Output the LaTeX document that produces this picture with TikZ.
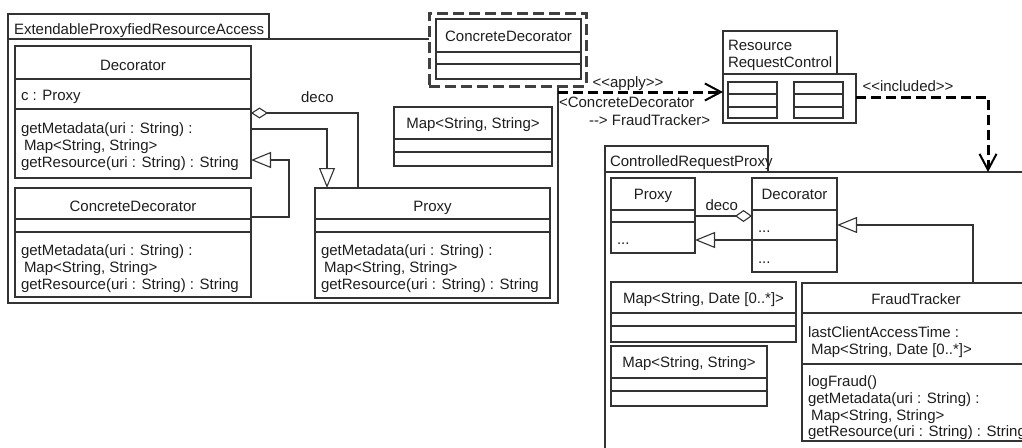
\documentclass[tikz,border=0pt]{standalone}
\usepackage{fontspec}
\setmainfont{Liberation Sans}
\usetikzlibrary{arrows.meta}
\definecolor{ln}{HTML}{333333}
\definecolor{tx}{HTML}{1E1E1E}
\definecolor{hlc}{HTML}{404040}
\newcommand\cmpt[2]{\draw[sep] ([yshift=-#2pt]#1.north west) -- ([yshift=-#2pt]#1.north east);}
\begin{document}
\begin{tikzpicture}[x=1pt,y=-1pt,
  box/.style={draw=ln, line width=1.1pt, fill=white, anchor=north west, inner sep=0pt, outer sep=0pt},
  sep/.style={draw=ln, line width=1.1pt},
  txt/.style={inner sep=0pt, outer sep=0pt, text=tx, font=\fontsize{15pt}{18pt}\selectfont},
  gen/.style={draw=ln, line width=1.1pt, -{Triangle[open, fill=white, length=20pt, width=16pt]}},
  aggs/.style={draw=ln, line width=1.1pt, {Diamond[open, fill=white, length=17pt, width=11pt]}-},
  agge/.style={draw=ln, line width=1.1pt, -{Diamond[open, fill=white, length=17pt, width=12pt]}},
  dep/.style={draw=black, line width=3pt, dash pattern=on 10pt off 5pt, -{Straight Barb[length=16pt, width=17pt, line width=2pt]}},
  hlbox/.style={draw=hlc, line width=3pt, dash pattern=on 11pt off 5pt, fill=white, anchor=north west, inner sep=0pt, outer sep=0pt}
]
\useasboundingbox (0,0) rectangle (1022,447);
\clip (0,0) rectangle (1022,447);

% ---------- package ExtendableProxyfiedResourceAccess
\node[box, minimum width=550pt, minimum height=264pt] (epra) at (8,39) {};
\node[box, minimum width=261pt, minimum height=25pt] (epratab) at (8,14) {};
\node[txt, anchor=base west] (epratitle) at (14,34) {ExtendableProxyfiedResourceAccess};

% Decorator
\node[box, minimum width=236pt, minimum height=132pt] (dec) at (15,46) {};
\cmpt{dec}{33}\cmpt{dec}{63}
\node[txt, anchor=base] (dech) at (133,70) {Decorator};
\node[txt, anchor=base west] (deca) at (21,100) {c : Proxy};
\node[txt, anchor=base west] (decm1) at (21,133) {getMetadata(uri : String) :};
\node[txt, anchor=base west] (decm2) at (21,150) {\hspace*{3pt}Map<String, String>};
\node[txt, anchor=base west] (decm3) at (21,167) {getResource(uri : String) : String};

% ConcreteDecorator
\node[box, minimum width=236pt, minimum height=109pt] (lcd) at (15,188) {};
\cmpt{lcd}{31}\cmpt{lcd}{44}
\node[txt, anchor=base] (lcdh) at (133,211) {ConcreteDecorator};
\node[txt, anchor=base west] (lcdm1) at (21,255) {getMetadata(uri : String) :};
\node[txt, anchor=base west] (lcdm2) at (21,272) {\hspace*{3pt}Map<String, String>};
\node[txt, anchor=base west] (lcdm3) at (21,289) {getResource(uri : String) : String};

% Proxy
\node[box, minimum width=235pt, minimum height=110pt] (lprox) at (315,188) {};
\cmpt{lprox}{31}\cmpt{lprox}{44}
\node[txt, anchor=base] (lproxh) at (432.5,211) {Proxy};
\node[txt, anchor=base west] (lproxm1) at (321,255) {getMetadata(uri : String) :};
\node[txt, anchor=base west] (lproxm2) at (321,272) {\hspace*{3pt}Map<String, String>};
\node[txt, anchor=base west] (lproxm3) at (321,289) {getResource(uri : String) : String};

% Map<String, String>
\node[box, minimum width=158pt, minimum height=59pt] (lmap) at (394,107) {};
\cmpt{lmap}{32}\cmpt{lmap}{45}
\node[txt, anchor=base] (lmaph) at (473,128) {Map<String, String>};

% connectors in package
\draw[aggs] ([yshift=-67pt]dec.north east) -| ([xshift=43pt]lprox.north west)
  node[txt, pos=0.31, above=10pt] (decolbl) {deco};
\draw[gen] ([yshift=-83pt]dec.north east) -| ([xshift=12pt]lprox.north west);
\draw[gen] ([yshift=-29pt]lcd.north east) -- ++(38,0) |- ([yshift=-114pt]dec.north east);

% ---------- highlighted ConcreteDecorator
\node[hlbox, minimum width=157pt, minimum height=73pt] (hl) at (429,13) {};
\node[box, minimum width=145pt, minimum height=60pt] (hcd) at (436,19) {};
\cmpt{hcd}{33}\cmpt{hcd}{45}
\node[txt, anchor=base] (hcdh) at (508.5,41) {ConcreteDecorator};

% ---------- ResourceRequestControl
\node[box, minimum width=114pt, minimum height=43pt] (rrctab) at (723,31) {};
\node[box, minimum width=133pt, minimum height=49pt] (rrc) at (723,74) {};
\node[txt, anchor=base west] (rrct1) at (728,50) {Resource};
\node[txt, anchor=base west] (rrct2) at (728,67) {RequestControl};
\node[box, minimum width=49pt, minimum height=36pt] (rrcb1) at (728,82) {};
\cmpt{rrcb1}{12}\cmpt{rrcb1}{25}
\node[box, minimum width=49pt, minimum height=36pt] (rrcb2) at (794,82) {};
\cmpt{rrcb2}{12}\cmpt{rrcb2}{25}

% apply
\draw[dep] ([yshift=-53pt]epra.north east) -- ([yshift=-18pt]rrc.north west);
\node[txt, anchor=base] (applylbl) at (628,87) {<{}<apply>{}>};
\node[txt, anchor=base west] (bind1) at (559,107) {<ConcreteDecorator};
\node[txt, anchor=base west] (bind2) at (589,125) {-{}-> FraudTracker>};

% ---------- ControlledRequestProxy
\node[box, minimum width=440pt, minimum height=300pt] (crp) at (605,172) {};
\node[box, minimum width=163pt, minimum height=26pt] (crptab) at (605,146) {};
\node[txt, anchor=base west] (crptitle) at (610,166) {ControlledRequestProxy};

% included
\draw[dep] ([yshift=-23pt]rrc.north east) -| ([xshift=383pt]crp.north west);
\node[txt, anchor=base] (inclbl) at (908,91) {<{}<included>{}>};

% Proxy (CRP)
\node[box, minimum width=84pt, minimum height=75pt] (cprox) at (611,178) {};
\cmpt{cprox}{32}\cmpt{cprox}{44}
\node[txt, anchor=base] (cproxh) at (653,199) {Proxy};
\node[txt, anchor=base west] (cproxm) at (617,244) {...};

% Decorator (CRP)
\node[box, minimum width=85pt, minimum height=94pt] (cdec) at (752,178) {};
\cmpt{cdec}{32}\cmpt{cdec}{62}
\node[txt, anchor=base] (cdech) at (794.5,199) {Decorator};
\node[txt, anchor=base west] (cdeca) at (758,232) {...};
\node[txt, anchor=base west] (cdecm) at (758,263) {...};

% Map<String, Date [0..*]>
\node[box, minimum width=185pt, minimum height=60pt] (mapd) at (611,282) {};
\cmpt{mapd}{31}\cmpt{mapd}{44}
\node[txt, anchor=base] (mapdh) at (703.5,303) {Map<String, Date [0..*]>};

% Map<String, String> (CRP)
\node[box, minimum width=156pt, minimum height=60pt] (maps) at (611,346) {};
\cmpt{maps}{32}\cmpt{maps}{45}
\node[txt, anchor=base] (mapsh) at (689,367) {Map<String, String>};

% FraudTracker
\node[box, minimum width=228pt, minimum height=158pt] (ft) at (802,283) {};
\cmpt{ft}{30}\cmpt{ft}{81}
\node[txt, anchor=base] (fth) at (916,304) {FraudTracker};
\node[txt, anchor=base west] (fta1) at (808,337) {lastClientAccessTime :};
\node[txt, anchor=base west] (fta2) at (808,354) {\hspace*{3pt}Map<String, Date [0..*]>};
\node[txt, anchor=base west] (ftm1) at (808,386) {logFraud()};
\node[txt, anchor=base west] (ftm2) at (808,403) {getMetadata(uri : String) :};
\node[txt, anchor=base west] (ftm3) at (808,420) {\hspace*{3pt}Map<String, String>};
\node[txt, anchor=base west] (ftm4) at (808,436) {getResource(uri : String) : String};

% connectors in CRP
\draw[agge] ([yshift=-38pt]cprox.north east) -- ([yshift=-38pt]cdec.north west)
  node[txt, pos=0.47, above=5pt] (decolbl2) {deco};
\draw[gen] ([yshift=-62pt]cdec.north west) -- ([yshift=-62pt]cprox.north east);
\draw[gen] ([xshift=171pt]ft.north west) |- ([yshift=-47pt]cdec.north east);
\end{tikzpicture}
\end{document}
